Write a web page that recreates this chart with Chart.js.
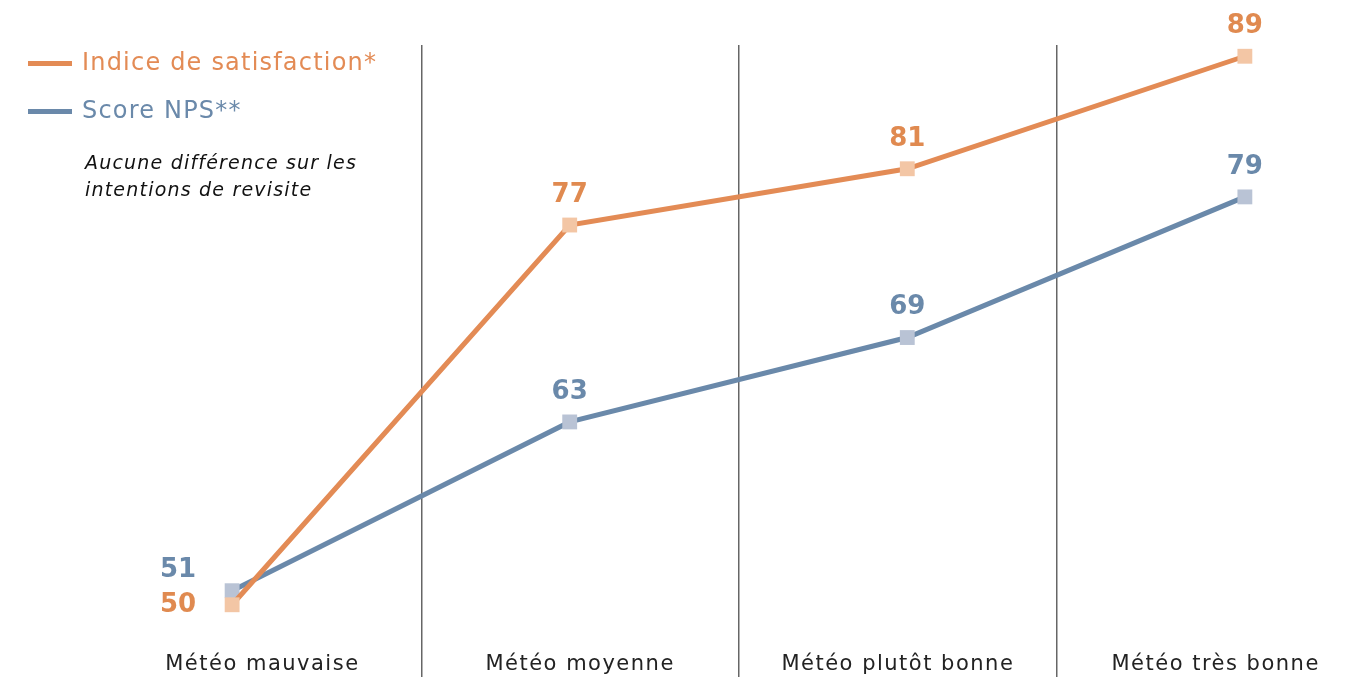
<!DOCTYPE html>
<html>
<head>
<meta charset="utf-8">
<script src="https://cdn.jsdelivr.net/npm/chart.js@4.4.1/dist/chart.umd.min.js"></script>
<style>
    html, body { margin: 0; padding: 0; background: #fff; overflow: hidden; }
    #wrap { position: relative; width: 1361px; height: 677px; overflow: hidden; }
    canvas { position: absolute; left: 0; top: 0; }
    .legend { position: absolute; left: 28px; font-family: "DejaVu Sans", sans-serif; font-size: 24px; letter-spacing: 1.2px; }
    .legend span.swatch { display: inline-block; width: 44px; height: 5px; vertical-align: middle; margin-right: 10px; }
    .note { position: absolute; left: 85px; top: 149px; font-family: "DejaVu Sans", sans-serif; font-style: italic; font-size: 19px; line-height: 27px; color: #111; letter-spacing: 1.2px; }
</style>
</head>
<body>
<div id="wrap">
    <canvas id="meteo-graph" width="1385" height="687"></canvas>
    <div class="legend" style="top:48px;color:#E38B55"><span class="swatch" style="background:#E38B55"></span>Indice de satisfaction*</div>
    <div class="legend" style="top:96px;color:#6A89AA"><span class="swatch" style="background:#6A89AA"></span>Score NPS**</div>
    <div class="note">Aucune différence sur les<br>intentions de revisite</div>
</div>
<script>
var categories = ["Météo mauvaise", "Météo moyenne", "Météo plutôt bonne", "Météo très bonne"];
var satisfaction = [50, 77, 81, 89];
var nps = [51, 63, 69, 79];

// points sit on a hidden linear axis, labels/separators on the category axis
function toPoints(values) {
    return values.map(function (v, i) { return {x: i, y: v}; });
}

var spacing = {
    id: "spacing",
    beforeDraw: function (chart) {
        chart.ctx.letterSpacing = "1.5px";
    }
};

var valueLabels = {
    id: "valueLabels",
    afterDatasetsDraw: function (chart) {
        var ctx = chart.ctx;
        ctx.save();
        ctx.letterSpacing = "0px";
        ctx.font = "bold 26px 'DejaVu Sans', sans-serif";
        ctx.textBaseline = "middle";
        chart.data.datasets.forEach(function (ds, di) {
            var meta = chart.getDatasetMeta(di);
            meta.data.forEach(function (pt, i) {
                ctx.fillStyle = ds.labelColor;
                if (i === 0) {
                    ctx.textAlign = "right";
                    ctx.fillText(ds.data[i].y, pt.x - 36, pt.y + ds.firstOffset);
                } else {
                    ctx.textAlign = "center";
                    ctx.fillText(ds.data[i].y, pt.x, pt.y - 30);
                }
            });
        });
        ctx.restore();
    }
};

var ctx = document.getElementById("meteo-graph").getContext("2d");
new Chart(ctx, {
    type: "line",
    data: {
        labels: categories,
        datasets: [
            {
                label: "Indice de satisfaction*",
                data: toPoints(satisfaction),
                xAxisID: "xp",
                borderColor: "#E38B55",
                backgroundColor: "#F3C6A5",
                labelColor: "#E08A50",
                firstOffset: 0,
                borderWidth: 5,
                pointStyle: "rect",
                pointRadius: 10.5,
                pointBorderWidth: 0,
                tension: 0,
                clip: false
            },
            {
                label: "Score NPS**",
                data: toPoints(nps),
                xAxisID: "xp",
                borderColor: "#6A89AA",
                backgroundColor: "#B9C3D5",
                labelColor: "#6A89AA",
                firstOffset: -20,
                borderWidth: 5,
                pointStyle: "rect",
                pointRadius: 10.5,
                pointBorderWidth: 0,
                tension: 0,
                clip: false
            }
        ]
    },
    options: {
        responsive: false,
        animation: false,
        layout: { padding: { left: 103.5, top: 45, right: 0, bottom: 0 } },
        plugins: {
            legend: { display: false },
            tooltip: { enabled: false }
        },
        scales: {
            x: {
                type: "category",
                offset: true,
                border: { display: false },
                grid: {
                    offset: true,
                    drawTicks: false,
                    lineWidth: 1.5,
                    color: function (c) {
                        return (c.index === 0 || c.index >= categories.length) ? "rgba(0,0,0,0)" : "#666666";
                    }
                },
                ticks: {
                    padding: -25,
                    color: "#222222",
                    font: { family: "'DejaVu Sans', sans-serif", size: 21 }
                }
            },
            xp: {
                type: "linear",
                display: false,
                min: -0.381,
                max: 3.384
            },
            y: {
                display: false,
                min: 44.9,
                max: 89.8
            }
        }
    },
    plugins: [spacing, valueLabels]
});
</script>
</body>
</html>
